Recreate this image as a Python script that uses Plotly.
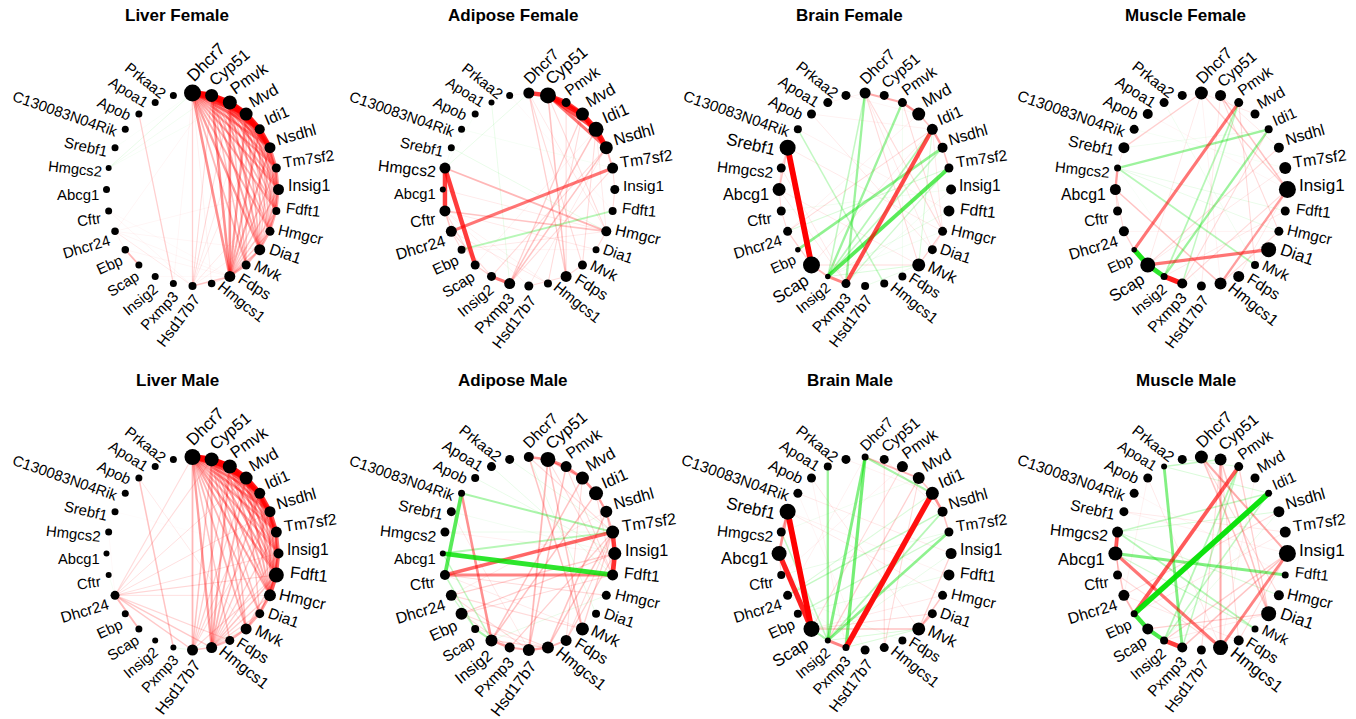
import math
import plotly.graph_objects as go

# ---------------- data ----------------
GENES = ["Dhcr7", "Cyp51", "Pmvk", "Mvd", "Idi1", "Nsdhl", "Tm7sf2", "Insig1", "Fdft1",
         "Hmgcr", "Dia1", "Mvk", "Fdps", "Hmgcs1", "Hsd17b7", "Pxmp3", "Insig2", "Scap",
         "Ebp", "Dhcr24", "Cftr", "Abcg1", "Hmgcs2", "Srebf1", "C130083N04Rik", "Apob",
         "Apoa1", "Prkaa2"]

PANEL_TITLES = ["Liver Female", "Adipose Female", "Brain Female", "Muscle Female",
                "Liver Male", "Adipose Male", "Brain Male", "Muscle Male"]

# node sizes (same order as GENES)
SIZE_LIVER_F = [17, 13, 14, 13, 10, 11, 9, 11, 8, 9, 11, 9, 11, 7.5, 8, 7, 7, 7, 7.5, 7.5, 7, 7, 6, 7, 7, 7, 7, 7]
SIZE_ADIPOSE_F = [11, 16, 9, 13, 15, 13, 11, 9, 8, 10, 7, 9, 11, 8, 9, 11, 9, 9, 8, 11, 11, 6, 11, 7, 7, 7, 6, 7]
SIZE_BRAIN_F = [11, 9, 9, 13, 11, 10, 9, 10, 11, 9, 9, 13, 8, 8, 8, 9, 5.5, 17, 5.5, 9, 9, 13, 9, 16, 8, 9, 9, 9]
SIZE_MUSCLE_F = [13, 11, 9, 9, 8, 10, 12, 17, 9, 9, 15, 8, 11, 12, 9, 10, 7, 15, 5.5, 10, 9, 11, 7, 11, 9, 10, 9, 9]
SIZE_LIVER_M = [16, 14, 14, 13, 11, 11, 11, 10, 15, 12, 9, 11, 9, 11, 11, 6, 6, 7, 7, 9, 6, 6, 7, 7, 7, 7, 7, 7]
SIZE_ADIPOSE_M = [10, 15, 11, 13, 14, 12, 13, 13, 11, 9, 8, 13, 11, 12, 12, 10, 12, 8, 12, 11, 10, 6, 9, 9, 7, 8, 9, 9]
SIZE_BRAIN_M = [7, 9, 11, 12, 13, 10, 9, 11, 11, 9, 9, 13, 8, 9, 9, 7, 6, 16, 8, 9, 8, 15, 9, 16, 9, 9, 8, 9]
SIZE_MUSCLE_M = [13, 12, 9, 9, 7, 11, 11, 17, 7, 10, 15, 7, 10, 15, 9, 10, 8, 11, 7, 11, 9, 14, 11, 9, 9, 9, 6, 9]

# edges: gene gene weight (positive = red, negative = green)
EDGES_LIVER_F = """
Dhcr7 Cyp51 1.0
Cyp51 Pmvk 0.95
Pmvk Mvd 0.95
Mvd Idi1 0.9
Idi1 Nsdhl 0.85
Dhcr7 Pmvk 0.85
Cyp51 Mvd 0.85
Pmvk Idi1 0.8
Mvd Nsdhl 0.8
Dhcr7 Mvd 0.7
Cyp51 Idi1 0.7
Nsdhl Tm7sf2 0.55
Tm7sf2 Insig1 0.45
Insig1 Fdft1 0.45
Fdft1 Hmgcr 0.4
Hmgcr Dia1 0.4
Dia1 Mvk 0.35
Mvk Fdps 0.4
Dhcr7 Idi1 0.5
Dhcr7 Nsdhl 0.45
Dhcr7 Tm7sf2 0.42
Dhcr7 Insig1 0.42
Dhcr7 Fdft1 0.38
Dhcr7 Hmgcr 0.38
Dhcr7 Dia1 0.45
Dhcr7 Mvk 0.35
Dhcr7 Fdps 0.5
Cyp51 Nsdhl 0.5
Cyp51 Tm7sf2 0.42
Cyp51 Insig1 0.38
Cyp51 Fdft1 0.35
Cyp51 Hmgcr 0.35
Cyp51 Dia1 0.4
Cyp51 Mvk 0.3
Cyp51 Fdps 0.5
Pmvk Nsdhl 0.5
Pmvk Tm7sf2 0.38
Pmvk Insig1 0.38
Pmvk Fdft1 0.35
Pmvk Hmgcr 0.3
Pmvk Dia1 0.4
Pmvk Mvk 0.3
Pmvk Fdps 0.5
Mvd Tm7sf2 0.42
Mvd Insig1 0.38
Mvd Fdft1 0.35
Mvd Hmgcr 0.3
Mvd Dia1 0.35
Mvd Mvk 0.28
Mvd Fdps 0.45
Idi1 Tm7sf2 0.38
Idi1 Insig1 0.35
Idi1 Fdft1 0.3
Idi1 Hmgcr 0.3
Idi1 Dia1 0.3
Idi1 Fdps 0.4
Nsdhl Insig1 0.35
Nsdhl Fdft1 0.3
Nsdhl Hmgcr 0.28
Nsdhl Dia1 0.28
Nsdhl Fdps 0.4
Tm7sf2 Fdft1 0.3
Tm7sf2 Hmgcr 0.28
Tm7sf2 Dia1 0.25
Tm7sf2 Fdps 0.28
Insig1 Hmgcr 0.3
Insig1 Dia1 0.28
Insig1 Fdps 0.3
Fdft1 Dia1 0.28
Fdft1 Fdps 0.28
Hmgcr Fdps 0.28
Dia1 Fdps 0.35
Hsd17b7 Dhcr7 0.25
Hsd17b7 Cyp51 0.2
Hsd17b7 Pmvk 0.2
Hsd17b7 Mvd 0.15
Hsd17b7 Idi1 0.15
Hsd17b7 Insig1 0.15
Hsd17b7 Hmgcr 0.12
Hsd17b7 Fdps 0.3
Hmgcs1 Dhcr7 0.12
Hmgcs1 Fdps 0.18
Ebp Scap 0.35
Apob Pxmp3 0.25
Dhcr24 Hsd17b7 0.15
Dhcr24 Fdps 0.1
Dhcr24 Insig1 0.1
Dhcr24 Dia1 0.1
Dhcr24 Cyp51 0.1
Dhcr24 Ebp 0.12
Cftr Hsd17b7 0.1
Cftr Fdps 0.08
Ebp Fdps 0.1
Pxmp3 Dhcr7 0.1
Insig2 Fdps 0.08
Hmgcs2 Dhcr7 -0.15
Hmgcs2 Cyp51 -0.12
Hmgcs2 Pmvk -0.1
Srebf1 Dhcr7 -0.08
"""

EDGES_ADIPOSE_F = """
Dhcr7 Cyp51 0.8
Cyp51 Pmvk 0.85
Cyp51 Mvd 0.85
Pmvk Mvd 0.8
Mvd Idi1 0.9
Cyp51 Idi1 0.75
Idi1 Nsdhl 0.9
Mvd Nsdhl 0.75
Cyp51 Nsdhl 0.6
Pmvk Idi1 0.6
Nsdhl Tm7sf2 0.35
Hmgcs2 Cftr 0.8
Hmgcs2 Scap 0.8
Dhcr24 Tm7sf2 0.6
Insig2 Pxmp3 0.6
Hmgcs2 Hmgcr 0.35
Cftr Hmgcr 0.3
Fdft1 Ebp -0.35
Apoa1 Pxmp3 -0.15
Srebf1 Hmgcr -0.15
Hmgcs2 Dhcr7 -0.15
C130083N04Rik Tm7sf2 -0.1
Pxmp3 Nsdhl 0.3
Pxmp3 Idi1 0.3
Pxmp3 Mvd 0.25
Pxmp3 Tm7sf2 0.2
Fdps Dhcr7 0.25
Fdps Cyp51 0.3
Fdps Pmvk 0.2
Hmgcs1 Mvd 0.2
Dhcr7 Mvk 0.2
Mvk Idi1 0.2
Scap Cftr 0.2
Insig2 Nsdhl 0.2
Ebp Hmgcr 0.15
Cftr Dia1 0.15
Abcg1 Hmgcr 0.15
Dhcr24 Insig2 0.2
Scap Insig2 0.25
Hsd17b7 Fdps 0.2
Cftr Dhcr24 0.3
Dhcr24 Ebp 0.2
Tm7sf2 Insig1 0.2
Insig1 Fdft1 0.2
Hmgcr Dia1 0.2
Mvk Fdps 0.2
Prkaa2 Dhcr7 0.1
Prkaa2 Fdft1 0.08
Hsd17b7 Cftr 0.12
Hsd17b7 Nsdhl 0.15
Hmgcs1 Cftr 0.12
Dhcr7 Hmgcr 0.15
Cyp51 Hmgcr 0.2
Idi1 Hmgcr 0.15
Srebf1 Hmgcs2 -0.1
Apob Hmgcs2 -0.08
Dhcr24 Hmgcs1 0.15
Ebp Dia1 0.1
Scap Idi1 0.12
"""

EDGES_BRAIN_F = """
Srebf1 Scap 1.0
Pxmp3 Idi1 0.75
Insig2 Tm7sf2 -0.7
Insig2 Pxmp3 0.55
Ebp Nsdhl -0.5
Insig2 Pmvk -0.45
Pxmp3 Dhcr7 -0.45
Insig2 Idi1 -0.35
Insig2 Nsdhl -0.3
Dhcr7 Insig2 -0.3
Scap Insig2 0.35
Dhcr7 Pmvk 0.4
Pmvk Mvd 0.5
Mvd Idi1 0.3
Idi1 Nsdhl 0.45
Nsdhl Tm7sf2 0.3
Srebf1 Abcg1 0.3
Abcg1 Cftr 0.2
Hmgcs2 Abcg1 0.2
Srebf1 Hmgcs2 0.2
Cftr Dhcr24 0.2
Scap Dhcr24 0.25
C130083N04Rik Hmgcs1 -0.3
Mvk Hmgcr 0.25
Mvk Dhcr7 0.2
Mvk Idi1 -0.2
Mvk Insig2 -0.2
Scap Mvk 0.2
Abcg1 Mvk 0.15
Pmvk Hmgcr 0.2
Dhcr7 Hmgcr 0.2
Idi1 Hmgcr 0.15
Hmgcr Dia1 0.15
Dhcr24 Idi1 0.2
Hsd17b7 Mvk -0.15
Insig2 Fdft1 -0.15
Insig2 Hmgcr -0.12
Srebf1 Hmgcr 0.15
Apob Dia1 0.15
C130083N04Rik Fdft1 0.12
Apoa1 Dhcr7 0.12
Prkaa2 Mvd 0.1
Apob Idi1 0.12
Hmgcs2 Pxmp3 0.15
Abcg1 Pxmp3 0.15
Cftr Insig1 -0.12
Dhcr24 Tm7sf2 -0.2
Scap Idi1 0.15
Pxmp3 Tm7sf2 -0.25
Dhcr7 Dia1 0.15
Mvd Dhcr24 0.12
Fdps Pmvk -0.12
Insig1 Pxmp3 -0.12
"""

EDGES_MUSCLE_F = """
Ebp Scap -0.9
Scap Insig2 -0.85
Insig2 Pxmp3 0.9
Ebp Pmvk 0.6
Scap Dia1 0.6
Hmgcs2 Idi1 -0.45
Idi1 Insig2 -0.45
Pmvk Insig2 -0.35
Pmvk Pxmp3 -0.3
Insig1 Hmgcs1 0.45
Hmgcs2 Abcg1 0.45
Hmgcs2 Mvk -0.35
Srebf1 Dhcr7 0.25
Abcg1 Hmgcs1 0.3
Dhcr7 Insig1 0.25
Cyp51 Insig1 0.3
Cyp51 Hmgcr 0.2
Pmvk Mvk 0.2
Idi1 Pxmp3 0.2
Nsdhl Scap 0.2
Dhcr24 Ebp 0.25
Abcg1 Cftr 0.2
Abcg1 Dhcr24 0.2
Hmgcs2 Fdft1 -0.15
Hmgcs2 Hmgcr -0.15
Apoa1 Mvk -0.12
Dhcr7 Scap 0.15
Cyp51 Hsd17b7 0.15
Pxmp3 Insig1 0.2
Insig2 Fdft1 0.15
Dhcr24 Hmgcr 0.12
Srebf1 Idi1 -0.12
C130083N04Rik Tm7sf2 -0.1
Hmgcs1 Hmgcr 0.2
Dhcr7 Mvd 0.15
Cyp51 Nsdhl 0.15
Tm7sf2 Scap 0.15
Hmgcs2 Srebf1 0.15
Apob Insig1 0.1
Prkaa2 Dhcr7 0.1
Dhcr7 Hmgcs1 0.12
Fdps Insig1 0.15
Mvk Dia1 0.12
Hsd17b7 Hmgcs2 -0.08
"""

EDGES_LIVER_M = """
Dhcr7 Cyp51 1.0
Cyp51 Pmvk 1.0
Pmvk Mvd 0.95
Mvd Idi1 0.9
Idi1 Nsdhl 0.85
Nsdhl Tm7sf2 0.75
Dhcr7 Pmvk 0.85
Cyp51 Mvd 0.85
Pmvk Idi1 0.8
Mvd Nsdhl 0.7
Idi1 Tm7sf2 0.6
Tm7sf2 Insig1 0.6
Insig1 Fdft1 0.65
Fdft1 Hmgcr 0.7
Hmgcr Dia1 0.45
Dia1 Mvk 0.4
Mvk Fdps 0.4
Fdps Hmgcs1 0.35
Hmgcs1 Hsd17b7 0.3
Dhcr7 Mvd 0.55
Dhcr7 Idi1 0.45
Dhcr7 Nsdhl 0.45
Dhcr7 Tm7sf2 0.42
Dhcr7 Insig1 0.38
Dhcr7 Fdft1 0.45
Dhcr7 Hmgcr 0.42
Dhcr7 Dia1 0.35
Dhcr7 Mvk 0.35
Dhcr7 Fdps 0.3
Dhcr7 Hmgcs1 0.45
Dhcr7 Hsd17b7 0.35
Cyp51 Idi1 0.5
Cyp51 Nsdhl 0.45
Cyp51 Tm7sf2 0.42
Cyp51 Insig1 0.38
Cyp51 Fdft1 0.42
Cyp51 Hmgcr 0.38
Cyp51 Dia1 0.3
Cyp51 Mvk 0.35
Cyp51 Hmgcs1 0.4
Cyp51 Hsd17b7 0.3
Pmvk Nsdhl 0.45
Pmvk Tm7sf2 0.42
Pmvk Insig1 0.38
Pmvk Fdft1 0.42
Pmvk Hmgcr 0.38
Pmvk Mvk 0.3
Pmvk Hmgcs1 0.4
Pmvk Hsd17b7 0.25
Mvd Tm7sf2 0.42
Mvd Insig1 0.35
Mvd Fdft1 0.42
Mvd Hmgcr 0.38
Mvd Dia1 0.28
Mvd Hmgcs1 0.35
Mvd Hsd17b7 0.25
Idi1 Insig1 0.35
Idi1 Fdft1 0.38
Idi1 Hmgcr 0.35
Idi1 Hmgcs1 0.32
Nsdhl Insig1 0.35
Nsdhl Fdft1 0.38
Nsdhl Hmgcr 0.35
Nsdhl Hmgcs1 0.28
Tm7sf2 Fdft1 0.4
Tm7sf2 Hmgcr 0.32
Tm7sf2 Hmgcs1 0.25
Insig1 Hmgcr 0.35
Insig1 Hmgcs1 0.25
Fdft1 Dia1 0.32
Fdft1 Mvk 0.28
Fdft1 Hmgcs1 0.3
Hmgcr Mvk 0.28
Hmgcr Hmgcs1 0.25
Dia1 Hmgcs1 0.22
Mvk Hmgcs1 0.25
Hsd17b7 Fdft1 0.22
Hsd17b7 Idi1 0.22
Hsd17b7 Nsdhl 0.2
Dhcr24 Dhcr7 0.2
Dhcr24 Cyp51 0.2
Dhcr24 Mvd 0.18
Dhcr24 Nsdhl 0.18
Dhcr24 Insig1 0.18
Dhcr24 Fdft1 0.22
Dhcr24 Hmgcr 0.18
Dhcr24 Fdps 0.22
Dhcr24 Hmgcs1 0.28
Dhcr24 Hsd17b7 0.28
Dhcr24 Scap 0.35
Apob Pxmp3 0.3
Apob Mvk 0.15
Pxmp3 Hsd17b7 -0.15
Hsd17b7 Mvk -0.12
Cftr Dhcr24 -0.1
Srebf1 Insig1 0.06
Hmgcs2 Dhcr24 0.08
"""

EDGES_ADIPOSE_M = """
Abcg1 Fdft1 -0.85
Tm7sf2 Insig1 0.8
Insig1 Fdft1 0.85
C130083N04Rik Cftr -0.7
Cftr Tm7sf2 0.65
Cftr Fdft1 0.55
C130083N04Rik Insig2 0.5
C130083N04Rik Tm7sf2 -0.4
Abcg1 Tm7sf2 -0.35
Dhcr7 Cyp51 0.5
Cyp51 Pmvk 0.55
Pmvk Mvd 0.5
Mvd Idi1 0.5
Idi1 Nsdhl 0.45
Nsdhl Tm7sf2 0.35
Cyp51 Mvd 0.4
Insig2 Pxmp3 0.45
Pxmp3 Hsd17b7 0.4
Hsd17b7 Hmgcs1 0.45
Hmgcs1 Fdps 0.35
Scap Insig2 -0.4
Cftr Scap -0.3
Dhcr24 Scap -0.25
Abcg1 Insig2 -0.3
Hsd17b7 Cyp51 0.35
Hsd17b7 Pmvk 0.3
Insig2 Mvd 0.3
Insig2 Idi1 0.3
Hmgcs1 Nsdhl 0.3
Hmgcs1 Tm7sf2 0.3
Mvk Dhcr7 0.3
Mvk Cyp51 0.3
Mvk Tm7sf2 0.25
Fdps Insig1 0.25
Pxmp3 Tm7sf2 0.25
Dhcr24 Insig1 0.25
Ebp Fdft1 0.2
Ebp Insig1 0.25
Cftr Hmgcr 0.2
Dhcr24 Mvk 0.2
Ebp Hmgcs1 0.2
Prkaa2 Tm7sf2 -0.15
Apoa1 Fdft1 -0.15
Apob Insig1 -0.15
Srebf1 Insig1 -0.12
Hmgcs2 Tm7sf2 -0.15
Dhcr7 Dia1 -0.15
Cyp51 Fdft1 0.2
Mvd Fdps 0.2
Idi1 Fdft1 0.2
Nsdhl Insig1 0.3
Hmgcr Insig2 -0.15
Dhcr24 Hsd17b7 0.2
Ebp Pxmp3 0.2
Scap Hmgcs1 0.15
Cftr Mvk 0.15
Dhcr24 Nsdhl 0.15
Hmgcs2 Insig1 0.12
Srebf1 Hsd17b7 0.15
Insig2 Hmgcs1 0.25
Fdps Tm7sf2 0.2
Dhcr7 Tm7sf2 0.2
Pmvk Fdft1 0.2
"""

EDGES_BRAIN_M = """
Srebf1 Scap 1.0
Pxmp3 Idi1 0.95
Abcg1 Scap 0.9
Dhcr7 Pxmp3 -0.6
Dhcr7 Insig2 -0.55
Insig2 Pxmp3 0.55
Srebf1 Abcg1 0.5
Tm7sf2 Insig2 -0.5
Apoa1 Insig2 -0.45
Idi1 Nsdhl 0.5
Dhcr7 Idi1 -0.4
Scap Insig2 -0.4
Nsdhl Insig2 -0.35
Dhcr7 Mvd 0.35
Mvk Dia1 0.35
Hmgcs2 Insig2 -0.3
Mvd Idi1 0.3
Nsdhl Tm7sf2 0.3
Mvk Hmgcr 0.3
Mvk Scap 0.3
Hmgcs2 Srebf1 0.3
Dhcr24 Nsdhl -0.3
Mvk Insig1 0.25
Ebp Tm7sf2 -0.25
Mvd Insig2 0.25
Scap Pmvk 0.2
Abcg1 Cftr 0.2
Insig2 Mvk -0.2
Pxmp3 Mvk -0.2
Hmgcs1 Cyp51 0.2
Hmgcs1 Mvd 0.2
Dhcr24 Idi1 -0.2
C130083N04Rik Insig1 0.15
Apob Mvk 0.15
Srebf1 Hmgcr 0.15
Prkaa2 Idi1 0.12
Hsd17b7 Dhcr24 -0.1
Cftr Pmvk 0.12
Abcg1 Insig2 -0.15
Apob Pxmp3 0.12
Srebf1 Fdft1 0.12
C130083N04Rik Hsd17b7 0.1
Dhcr24 Dhcr7 0.12
Ebp Fdft1 -0.15
Scap Dia1 0.2
Cftr Tm7sf2 -0.15
Hmgcs2 Mvd -0.12
Insig2 Insig1 -0.15
Scap Hmgcr 0.15
Fdps Dhcr24 -0.12
Cyp51 Nsdhl 0.15
"""

EDGES_MUSCLE_M = """
Idi1 Ebp -0.95
Ebp Scap -0.8
Insig2 Pxmp3 0.8
Scap Insig2 -0.75
Ebp Pmvk 0.7
Hmgcs2 Abcg1 0.7
Abcg1 Hmgcs1 0.6
Apoa1 Pxmp3 -0.55
Abcg1 Fdft1 -0.55
Insig1 Hmgcs1 0.55
Cyp51 Hmgcs1 0.4
Dhcr7 Insig1 0.4
Hmgcs2 Mvk -0.35
Pmvk Insig2 -0.35
Dhcr24 Ebp 0.35
Pmvk Pxmp3 -0.3
Hmgcs2 Idi1 -0.3
Idi1 Insig2 -0.3
Abcg1 Mvk -0.25
Dhcr7 Dia1 0.3
Cyp51 Dia1 0.3
Abcg1 Dhcr24 0.3
Pxmp3 Insig1 0.3
Apoa1 Cyp51 -0.3
Pmvk Dia1 0.25
Insig2 Insig1 0.25
Scap Dia1 0.25
Hsd17b7 Cyp51 0.2
Nsdhl Dhcr24 0.2
Hmgcs2 Hmgcr -0.2
Hmgcs2 Nsdhl -0.2
Prkaa2 Pmvk -0.2
Apob Hmgcs1 0.15
Srebf1 Tm7sf2 0.15
Apoa1 Idi1 -0.2
Cftr Hmgcs1 0.2
Dhcr24 Fdps 0.15
Hmgcs2 Cftr 0.2
Dhcr7 Hmgcr 0.2
Cyp51 Fdps 0.2
Insig1 Fdps 0.2
Dia1 Insig2 0.15
Apob Dhcr24 0.12
C130083N04Rik Fdft1 0.1
Srebf1 Insig1 0.12
Ebp Tm7sf2 0.15
Nsdhl Insig2 -0.15
Mvd Hmgcs1 0.12
"""

PANEL_SIZES = [SIZE_LIVER_F, SIZE_ADIPOSE_F, SIZE_BRAIN_F, SIZE_MUSCLE_F,
               SIZE_LIVER_M, SIZE_ADIPOSE_M, SIZE_BRAIN_M, SIZE_MUSCLE_M]
PANEL_EDGES = [EDGES_LIVER_F, EDGES_ADIPOSE_F, EDGES_BRAIN_F, EDGES_MUSCLE_F,
               EDGES_LIVER_M, EDGES_ADIPOSE_M, EDGES_BRAIN_M, EDGES_MUSCLE_M]

# ---------------- layout / style constants ----------------
FIG_W, FIG_H = 1356, 719
CX0, DX = 192.5, 336.3      # pixel centre of first circle, column spacing
CY0, DY = 189.5, 364.0      # pixel centre of first circle, row spacing
RX, RY = 86.0, 96.5         # circle radii in pixels
HALF_W, HALF_H = 150.0, 160.0
TITLE_DX = -15.5
TITLE_Y0 = 16.0
FONT = "Arial, 'Liberation Sans', Helvetica, sans-serif"
POS_RGB = (255, 0, 0)
NEG_RGB = (0, 225, 0)
LABEL_GAP = 3.5
LABEL_SHIFT_R = 4.0
LABEL_SHIFT_L = 5.0

CHAR_W = {
    'A': 667, 'B': 667, 'C': 722, 'D': 722, 'E': 667, 'F': 611, 'H': 722, 'I': 278, 'M': 833,
    'N': 722, 'P': 667, 'R': 722, 'S': 667, 'T': 611,
    'a': 556, 'b': 556, 'c': 500, 'd': 556, 'e': 556, 'f': 278, 'g': 556, 'h': 556, 'i': 222,
    'k': 500, 'l': 222, 'm': 833, 'n': 556, 'o': 556, 'p': 556, 'r': 333, 's': 500, 'v': 500,
    'x': 500, 'y': 500,
}


def text_width(s, size):
    return sum(CHAR_W.get(ch, 556) for ch in s) * size / 1000.0


def parse_edges(txt):
    out = []
    for line in txt.strip().splitlines():
        a, b, w = line.split()
        out.append((GENES.index(a), GENES.index(b), float(w)))
    return out


n = len(GENES)
thetas = [90.0 - i * 360.0 / n for i in range(n)]
node_x = [math.cos(math.radians(t)) for t in thetas]
node_y = [math.sin(math.radians(t)) for t in thetas]

fig = go.Figure()
layout = dict(width=FIG_W, height=FIG_H, margin=dict(l=0, r=0, t=0, b=0),
              paper_bgcolor="white", plot_bgcolor="white", showlegend=False,
              font=dict(family=FONT, color="black"))
annotations = []

for p in range(8):
    row, col = divmod(p, 4)
    cx = CX0 + DX * col
    cy = CY0 + DY * row
    sfx = "" if p == 0 else str(p + 1)
    xa, ya = "x" + sfx, "y" + sfx
    layout["xaxis" + sfx] = dict(domain=[(cx - HALF_W) / FIG_W, (cx + HALF_W) / FIG_W],
                                 range=[-HALF_W / RX, HALF_W / RX], visible=False,
                                 fixedrange=True, anchor=ya)
    layout["yaxis" + sfx] = dict(domain=[1 - (cy + HALF_H) / FIG_H, 1 - (cy - HALF_H) / FIG_H],
                                 range=[-HALF_H / RY, HALF_H / RY], visible=False,
                                 fixedrange=True, anchor=xa)

    sizes = PANEL_SIZES[p]
    edges = sorted(parse_edges(PANEL_EDGES[p]), key=lambda e: abs(e[2]))
    for a, b, w in edges:
        rgb = POS_RGB if w > 0 else NEG_RGB
        aw = abs(w)
        alpha = min(1.0, aw ** 1.2)
        fig.add_trace(go.Scatter(
            x=[node_x[a], node_x[b]], y=[node_y[a], node_y[b]], mode="lines",
            line=dict(color="rgba(%d,%d,%d,%.3f)" % (rgb + (alpha,)),
                      width=0.4 + 5.4 * aw ** 1.3),
            hoverinfo="skip", xaxis=xa, yaxis=ya))

    fig.add_trace(go.Scatter(
        x=node_x, y=node_y, mode="markers",
        marker=dict(size=sizes, color="black", opacity=1, line=dict(width=0)),
        cliponaxis=False, hoverinfo="text", text=GENES, xaxis=xa, yaxis=ya))

    # node labels (label size grows with node size)
    for i, g in enumerate(GENES):
        th = thetas[i]
        fsize = 13.4 + 0.22 * sizes[i]
        wtxt = text_width(g, fsize)
        r = sizes[i] / 2.0
        right = i <= 13
        if right:
            ang = th
            beta = th if th >= 0 else th * 0.45
        else:
            ang = th - 180.0
            while ang < -180:
                ang += 360.0
            phi = th % 360.0
            beta = phi if phi >= 180.0 else 180.0 - (180.0 - phi) * 0.45
        rot = 0.5 * ang
        if ang > 0:
            rot += 4.0 * math.sin(math.radians(2 * ang))
            if not right:
                rot += 8.0 * (ang / 90.0) ** 2
        br = math.radians(beta)
        ax_ = (r + LABEL_GAP) * math.cos(br)
        ay_ = (r + LABEL_GAP) * math.sin(br)
        rr = math.radians(rot)
        dx_, dy_ = math.cos(rr), math.sin(rr)
        nx_, ny_ = -math.sin(rr), math.cos(rr)
        if right:
            cxs = ax_ + wtxt / 2 * dx_ + LABEL_SHIFT_R * nx_
            cys = ay_ + wtxt / 2 * dy_ + LABEL_SHIFT_R * ny_
        else:
            cxs = ax_ - wtxt / 2 * dx_ - LABEL_SHIFT_L * nx_
            cys = ay_ - wtxt / 2 * dy_ - LABEL_SHIFT_L * ny_
        annotations.append(dict(
            x=node_x[i], y=node_y[i], xref=xa, yref=ya, text=g, showarrow=False,
            xanchor="center", yanchor="middle", xshift=cxs, yshift=cys,
            textangle=-rot, font=dict(size=fsize, family=FONT, color="black")))

    annotations.append(dict(
        x=(cx + TITLE_DX) / FIG_W, y=1 - (TITLE_Y0 + DY * row) / FIG_H,
        xref="paper", yref="paper", text="<b>%s</b>" % PANEL_TITLES[p], showarrow=False,
        xanchor="center", yanchor="middle", font=dict(size=17, family=FONT, color="black")))

layout["annotations"] = annotations
fig.update_layout(**layout)
# remove the browser's default 8px page margin so the figure fills the window exactly
fig.write_html("out.html", config={"displayModeBar": False},
               post_script="document.body.style.margin='0px';")
